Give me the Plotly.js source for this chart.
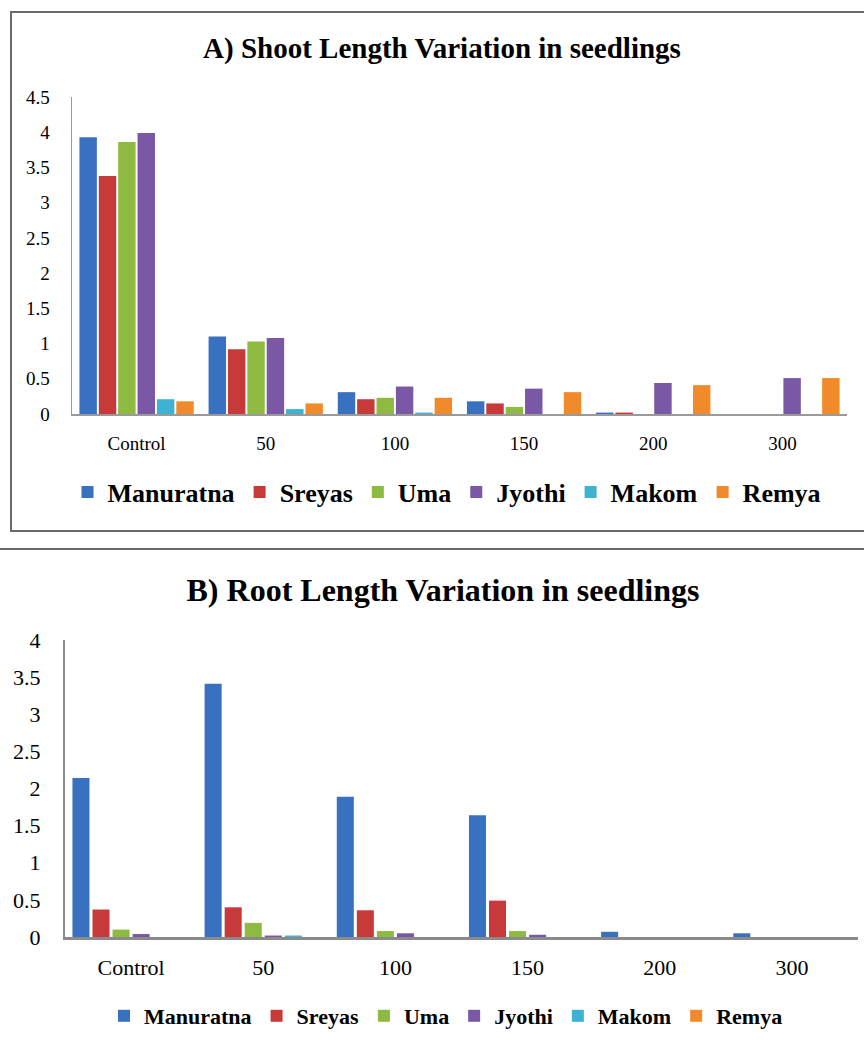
<!DOCTYPE html>
<html>
<head>
<meta charset="utf-8">
<script src="https://cdn.plot.ly/plotly-3.0.1.min.js"></script>
<style>
  html, body { margin: 0; padding: 0; background: #fff; width: 864px; height: 1048px; overflow: hidden; }
  #chartA { position: absolute; left: 0; top: 0; width: 864px; height: 540px; }
  #chartB { position: absolute; left: 0; top: 551px; width: 864px; height: 497px; }
  #boxA { position: absolute; left: 10px; top: 11px; width: 880px; height: 517px; border: 2px solid #6a6a6a; pointer-events: none; }
  #sep { position: absolute; left: 0; top: 548px; width: 864px; height: 0; border-top: 2px solid #6a6a6a; pointer-events: none; }
</style>
</head>
<body>
<div id="chartA"></div>
<div id="chartB"></div>
<div id="boxA"></div>
<div id="sep"></div>
<script>
// Categories (salt concentration levels)
const categories = ["Control", "50", "100", "150", "200", "300"];
const varieties = ["Manuratna", "Sreyas", "Uma", "Jyothi", "Makom", "Remya"];
const colors = ["#3871c0", "#c83a3a", "#8fba42", "#7a58a6", "#3db2d2", "#f08a2a"];

// A) Shoot length (values per variety across categories)
const shootManuratna = [3.93, 1.10, 0.31, 0.18, 0.02, 0];
const shootSreyas    = [3.38, 0.92, 0.21, 0.15, 0.02, 0];
const shootUma       = [3.86, 1.03, 0.23, 0.10, 0, 0];
const shootJyothi    = [3.99, 1.08, 0.39, 0.36, 0.44, 0.51];
const shootMakom     = [0.21, 0.07, 0.02, 0, 0, 0];
const shootRemya     = [0.18, 0.15, 0.23, 0.31, 0.41, 0.51];

// B) Root length
const rootManuratna = [2.14, 3.41, 1.89, 1.64, 0.07, 0.05];
const rootSreyas    = [0.37, 0.40, 0.36, 0.49, 0, 0];
const rootUma       = [0.10, 0.19, 0.08, 0.08, 0, 0];
const rootJyothi    = [0.04, 0.02, 0.05, 0.03, 0, 0];
const rootMakom     = [0, 0.02, 0, 0, 0, 0];
const rootRemya     = [0, 0, 0, 0, 0, 0];

const titleA = "A) Shoot Length Variation in seedlings";
const titleB = "B) Root Length Variation in seedlings";

const shootSeries = [shootManuratna, shootSreyas, shootUma, shootJyothi, shootMakom, shootRemya];
const rootSeries  = [rootManuratna, rootSreyas, rootUma, rootJyothi, rootMakom, rootRemya];

const serif = "'Liberation Serif', 'Times New Roman', serif";

function makeTraces(series) {
  return series.map((vals, i) => ({
    type: "bar",
    name: "<b>" + varieties[i] + "</b>",
    x: categories,
    y: vals,
    marker: { color: colors[i], line: { width: 0 } },
    hoverinfo: "x+y"
  }));
}

const layoutA = {
  width: 864, height: 540,
  font: { family: serif },
  margin: { l: 72, r: 17, t: 97, b: 126 },
  paper_bgcolor: "rgba(0,0,0,0)", plot_bgcolor: "rgba(0,0,0,0)",
  barmode: "group", bargap: 0.1, bargroupgap: 0.1,
  title: { text: "<b>" + titleA + "</b>", font: { family: serif, size: 29, color: "#000" },
           x: 442 / 864, xref: "container", xanchor: "center", y: 1 - 48 / 540, yref: "container", yanchor: "middle" },
  xaxis: { type: "category", showline: true, linecolor: "#9a9a9a", linewidth: 2, ticks: "", showgrid: false, zeroline: false,
           tickfont: { family: serif, size: 19, color: "#000" }, ticklabelstandoff: 11 },
  yaxis: { range: [0, 4.5], dtick: 0.5, showline: true, linecolor: "#9a9a9a", linewidth: 1.5, ticks: "", showgrid: false, zeroline: false,
           tickfont: { family: serif, size: 19, color: "#000" }, ticklabelstandoff: 17 },
  showlegend: true,
  legend: { orientation: "h", xref: "container", x: 447 / 864, xanchor: "center", yref: "container", y: 1 - 492 / 540, yanchor: "middle",
            font: { family: serif, size: 26, color: "#000" }, itemwidth: 30, traceorder: "normal" }
};

const layoutB = {
  width: 864, height: 497,
  font: { family: serif },
  margin: { l: 65, r: 6, t: 89, b: 111 },
  paper_bgcolor: "rgba(0,0,0,0)", plot_bgcolor: "rgba(0,0,0,0)",
  barmode: "group", bargap: 0.09, bargroupgap: 0.15,
  title: { text: "<b>" + titleB + "</b>", font: { family: serif, size: 32, color: "#000" },
           x: 443 / 864, xref: "container", xanchor: "center", y: 1 - 39 / 497, yref: "container", yanchor: "middle" },
  xaxis: { type: "category", showline: true, linecolor: "#8a8a8a", linewidth: 3, ticks: "", showgrid: false, zeroline: false,
           tickfont: { family: serif, size: 22, color: "#000" }, ticklabelstandoff: 9 },
  yaxis: { range: [0, 4], dtick: 0.5, showline: true, linecolor: "#8a8a8a", linewidth: 2, ticks: "", showgrid: false, zeroline: false,
           tickfont: { family: serif, size: 22, color: "#000" }, ticklabelstandoff: 18 },
  showlegend: true,
  legend: { orientation: "h", xref: "container", x: 446 / 864, xanchor: "center", yref: "container", y: 1 - 465 / 497, yanchor: "middle",
            font: { family: serif, size: 22, color: "#000" }, itemwidth: 30, traceorder: "normal" }
};

const config = { staticPlot: true, displayModeBar: false };
Plotly.newPlot("chartA", makeTraces(shootSeries), layoutA, config);
Plotly.newPlot("chartB", makeTraces(rootSeries), layoutB, config);
</script>
</body>
</html>
